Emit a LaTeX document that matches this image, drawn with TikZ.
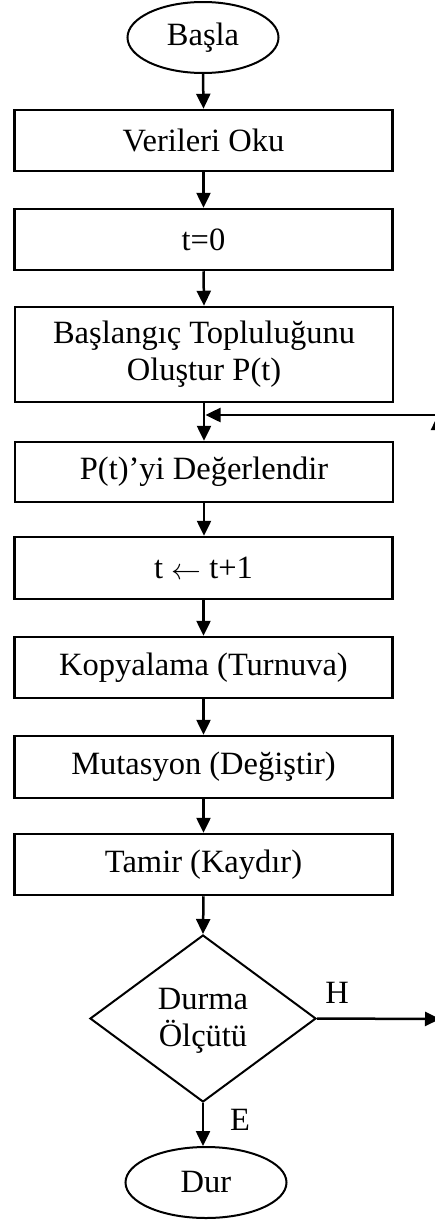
\documentclass[tikz,border=0pt]{standalone}
\usepackage{fontspec}
\setmainfont{Liberation Serif}
\usetikzlibrary{shapes.geometric,arrows.meta,calc}

\tikzset{
  every node/.style={font=\fontsize{32.5}{37}\selectfont, align=center},
  proc/.style={draw, line width=2.5pt, rectangle, inner sep=0pt,
               minimum width=378pt},
  term/.style={draw, line width=2pt, ellipse, inner sep=0pt},
  decide/.style={draw, line width=2pt, diamond, inner sep=0pt,
                 minimum width=226pt, minimum height=167pt},
  flow/.style={line width=2.5pt, -{Triangle[length=15pt,width=14pt]}},
  lbl/.style={inner sep=0pt}
}

\begin{document}
\begin{tikzpicture}[x=1pt,y=-1pt]
  \useasboundingbox (0,0) rectangle (435,1221);
  \clip (0,0) rectangle (435,1221);
  \fill[white] (0,0) rectangle (435,1221);

  % terminals, process steps and the decision
  \node[term, minimum width=151pt, minimum height=71pt] (start) at (203,37.5) {Başla};
  \node[proc, minimum height=61pt] (read)  at (203.5,140.5) {Verileri Oku};
  \node[proc, minimum height=61pt] (tzero) at (203.5,239.5) {t=0};
  \node[proc, minimum height=95pt] (init)  at (204,354.5) {Başlangıç Topluluğunu\\Oluştur P(t)};
  \node[proc, minimum height=60pt] (eval)  at (204,472) {P(t)’yi Değerlendir};
  \node[proc, minimum height=62pt] (inc)   at (203.5,568) {t \raisebox{-1pt}{\scalebox{1.2}{$\leftarrow$}} t+1};
  \node[proc, minimum height=61pt] (sel)   at (203.5,667.5) {Kopyalama (Turnuva)};
  \node[proc, minimum height=62pt] (mut)   at (203.5,767) {Mutasyon (Değiştir)};
  \node[proc, minimum height=61pt] (rep)   at (203.5,864.5) {Tamir (Kaydır)};
  \node[decide] (stop) at (203,1018.5) {};
  \node[lbl] (stopTxt) at (203,1021) {Durma\\Ölçütü};
  \node[term, minimum width=161pt, minimum height=71pt] (done) at (206,1182.5) {Dur};

  % main flow
  \draw[flow] (start.south) -- (read.north);
  \draw[flow] (read.south)  -- (tzero.north);
  \draw[flow] (tzero.south) -- (init.north);
  \draw[flow] (init.south)  -- (init.south |- eval.north);
  \draw[flow] (eval.south)  -- (eval.south |- inc.north);
  \draw[flow] (inc.south)   -- (sel.north);
  \draw[flow] (sel.south)   -- (mut.north);
  \draw[flow] (mut.south)   -- (mut.south |- rep.north);
  \draw[flow] (rep.south)   -- (stop.north);
  \draw[flow] (stop.south)  -- (stop.south |- done.north);

  % "no" branch and the loop back to the evaluation step
  \coordinate (hTip)    at (440,1019);
  \coordinate (loopBot) at (438,1040);
  \coordinate (loopTop) at (438,415);
  \coordinate (loopIn)  at ($(init.south |- loopTop)+(1.5,0)$);
  \draw[flow] (stop.east) -- (hTip);
  \draw[flow] (loopBot) -- (loopTop);
  \draw[flow] (loopTop) -- (loopIn);

  \node[lbl] (labH) at (337,993) {H};
  \node[lbl] (labE) at (240,1120) {E};
\end{tikzpicture}
\end{document}
